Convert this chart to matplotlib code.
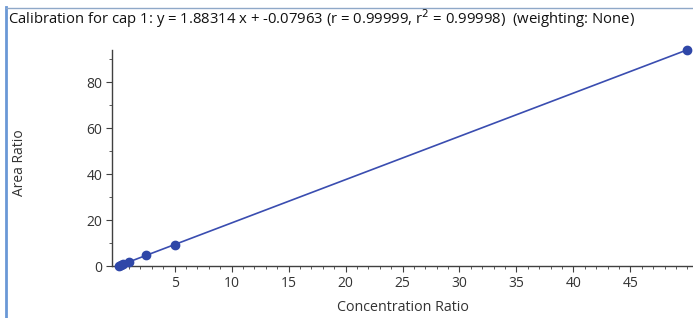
import numpy as np
import matplotlib.pyplot as plt
from matplotlib.lines import Line2D
from matplotlib.ticker import MultipleLocator

plt.rcParams['font.family'] = ['Open Sans', 'DejaVu Sans']

# calibration data
conc_ratio = [0.1, 0.25, 0.5, 1.0, 2.5, 5.0, 50.0]
area_ratio = [0.12, 0.39, 0.86, 1.81, 4.63, 9.33, 94.08]
slope, intercept = 1.88314, -0.07963
title = ("Calibration for cap 1: y = 1.88314 x + -0.07963 (r = 0.99999, "
         "r$^2$ = 0.99998)  (weighting: None)")

fig = plt.figure(figsize=(6.93, 3.18), dpi=100)
W, H = 693, 318
ax = fig.add_axes([112 / W, (H - 266) / H, (W - 112) / W, 216 / H])

fit_x = np.array([min(conc_ratio), max(conc_ratio)])
ax.plot(fit_x, slope * fit_x + intercept, color='#3a4db0', lw=1.2, zorder=2)
ax.plot(conc_ratio, area_ratio, 'o', color='#2f47a8', ms=6, zorder=3, clip_on=False)

ax.set_xlim(-0.5, 50.5)
ax.set_ylim(0, 94)
ax.xaxis.set_major_locator(MultipleLocator(5))
ax.xaxis.set_minor_locator(MultipleLocator(1))
ax.yaxis.set_major_locator(MultipleLocator(20))
ax.yaxis.set_minor_locator(MultipleLocator(10))
ax.set_xticks([5, 10, 15, 20, 25, 30, 35, 40, 45])
ax.set_yticks([0, 20, 40, 60, 80])

for s in ['top', 'right']:
    ax.spines[s].set_visible(False)
for s in ['left', 'bottom']:
    ax.spines[s].set_color('#404040')
    ax.spines[s].set_linewidth(1.0)
ax.tick_params(which='major', length=4, color='#404040', labelsize=10, labelcolor='#333333', pad=3)
ax.tick_params(which='minor', length=2, color='#404040')

ax.set_xlabel('Concentration Ratio', fontsize=10.3, color='#333333', labelpad=7)
ax.set_ylabel('Area Ratio', fontsize=10, color='#333333')
ax.yaxis.set_label_coords(-0.146, 0.48)

fig.text(8 / W, 1 - 19 / H, title, fontsize=10.7, color='#111111', va='center', ha='left')

# window frame
fig.add_artist(Line2D([6 / W, 6 / W], [0, 1 - 7 / H], color='#6a98d6', lw=2))
fig.add_artist(Line2D([6 / W, 1], [1 - 8 / H, 1 - 8 / H], color='#8fa8c8', lw=1))

fig.savefig('out.png', dpi=100)
